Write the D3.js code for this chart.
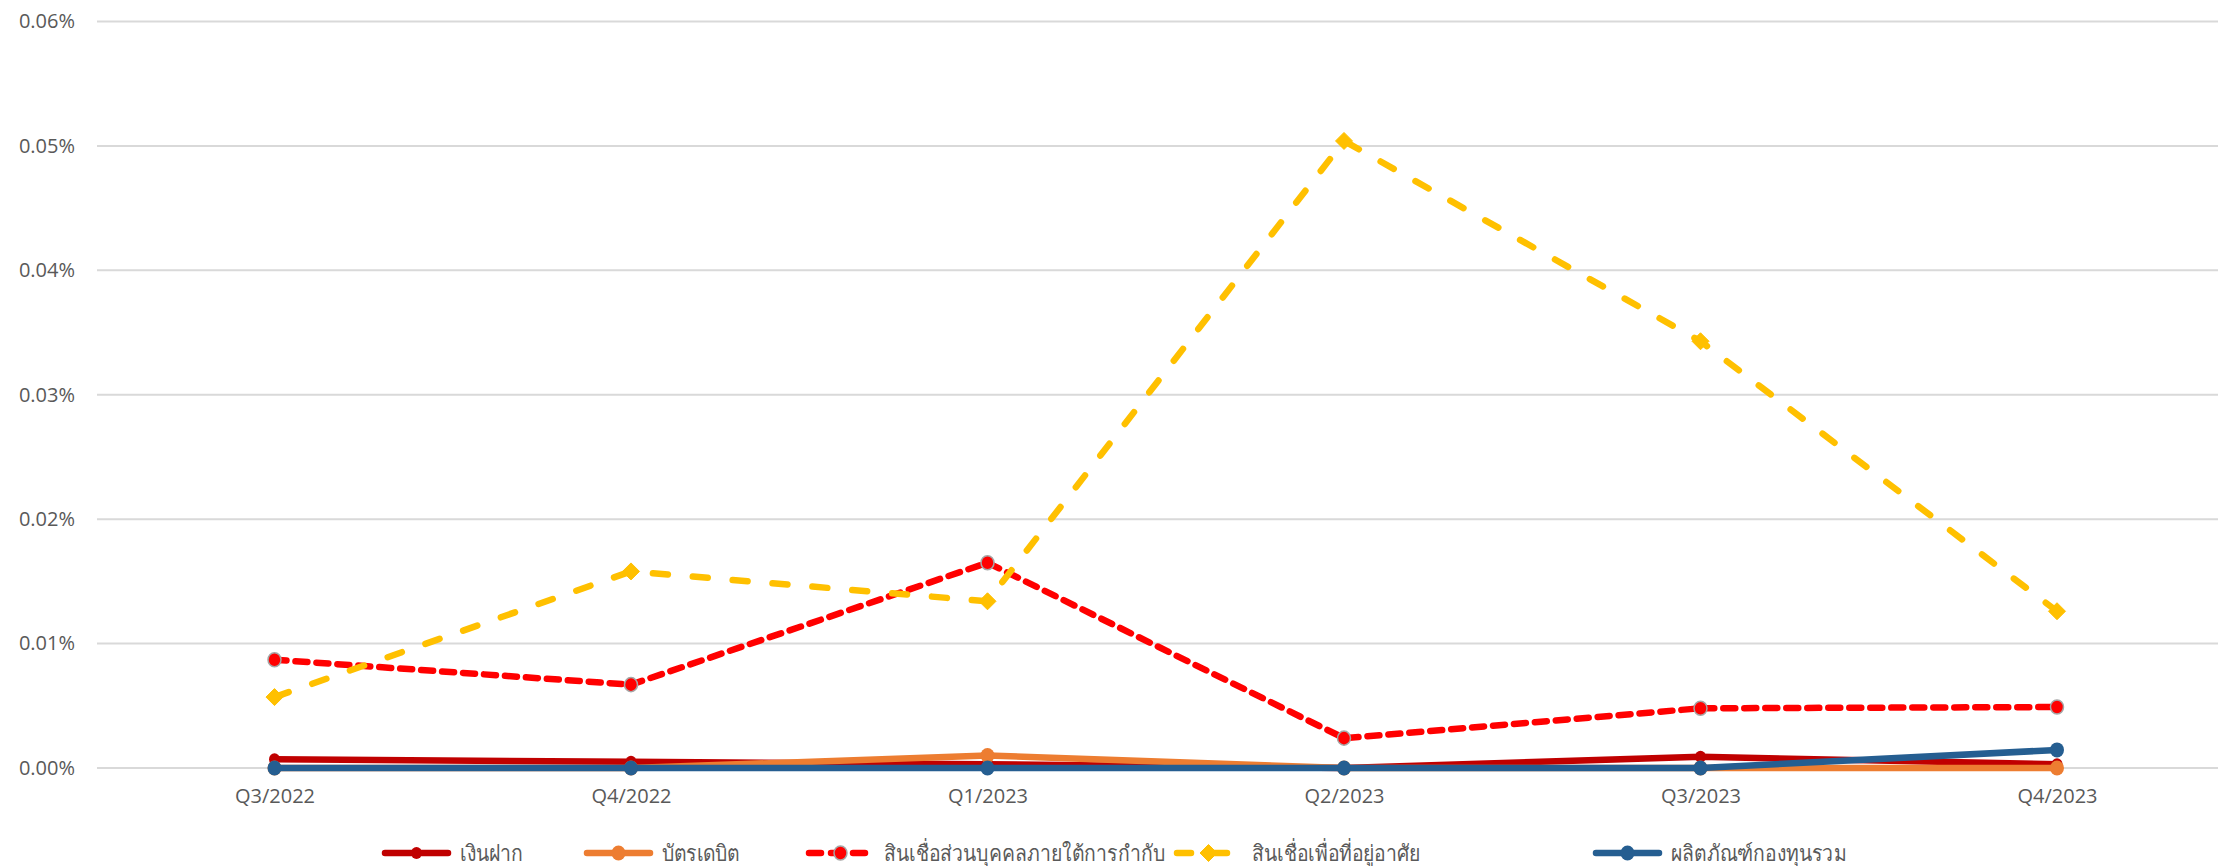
<!DOCTYPE html>
<html lang="th">
<head>
<meta charset="utf-8">
<title>chart</title>
<script src="https://cdn.jsdelivr.net/npm/d3@7"></script>
<style>
  body { margin: 0; background: #fff; }
  text { font-family: "Open Sans", "Noto Sans", sans-serif; fill: #595959; }
</style>
</head>
<body>
<script>
// data (values in percent)
var quarters = ["Q3/2022", "Q4/2022", "Q1/2023", "Q2/2023", "Q3/2023", "Q4/2023"];
var deposit   = [0.0007, 0.0005, 0.0003, 0.0, 0.0009, 0.0003];
var debitCard = [0.0, 0.0, 0.0010, 0.0, 0.0, 0.0];
var personal  = [0.0087, 0.0067, 0.0165, 0.0024, 0.0048, 0.0049];
var housing   = [0.0057, 0.0158, 0.0134, 0.0504, 0.0343, 0.0126];
var funds     = [0.0, 0.0, 0.0, 0.0, 0.0, 0.00145];
var yTicks = [0, 0.01, 0.02, 0.03, 0.04, 0.05, 0.06];

var series = [
  {name: "เงินฝาก", values: deposit, color: "#C00000", dash: null, marker: "circle", r: 5.5},
  {name: "บัตรเดบิต", values: debitCard, color: "#ED7D31", dash: null, marker: "circle", r: 7},
  {name: "สินเชื่อส่วนบุคคลภายใต้การกำกับ", values: personal, color: "#FF0000", dash: "12,9", legendDash: "12,10", marker: "circle", r: 6.5, stroke: "#A6A6A6"},
  {name: "สินเชื่อเพื่อที่อยู่อาศัย", values: housing, color: "#FFC000", dash: "15,25", legendDash: "14,22", marker: "diamond", r: 8.5},
  {name: "ผลิตภัณฑ์กองทุนรวม", values: funds, color: "#255E91", dash: null, marker: "circle", r: 7}
];

var W = 2218, H = 866;
var svg = d3.select("body").append("svg").attr("width", W).attr("height", H);

var x = d3.scalePoint().domain(quarters).range([274.5, 2057]);
var y = d3.scaleLinear().domain([0, 0.06]).range([768, 21.5]);

// gridlines
svg.append("g").selectAll("line").data(yTicks).enter().append("line")
  .attr("x1", 97).attr("x2", W)
  .attr("y1", function(d) { return y(d); })
  .attr("y2", function(d) { return y(d); })
  .attr("stroke", "#D9D9D9").attr("stroke-width", 2);

// y axis labels
var yAxis = d3.axisLeft(y).tickValues(yTicks).tickSize(0).tickPadding(0)
  .tickFormat(function(d) { return d.toFixed(2) + "%"; });
var gy = svg.append("g").attr("transform", "translate(75,0)").call(yAxis);
gy.select(".domain").remove();
gy.selectAll("text").style("font-size", "20px").attr("fill", "#595959");

// x axis labels
var xAxis = d3.axisBottom(x).tickSize(0).tickPadding(0);
var gx = svg.append("g").attr("transform", "translate(0,789)").call(xAxis);
gx.select(".domain").remove();
gx.selectAll("text").style("font-size", "20px").attr("fill", "#595959").attr("dy", "0.71em");

var line = d3.line()
  .x(function(d, i) { return x(quarters[i]); })
  .y(function(d) { return y(d); });

function drawMarker(g, s, cx, cy) {
  if (s.marker === "diamond") {
    g.append("path")
      .attr("d", "M" + cx + "," + (cy - s.r) + "L" + (cx + s.r) + "," + cy +
                 "L" + cx + "," + (cy + s.r) + "L" + (cx - s.r) + "," + cy + "Z")
      .attr("fill", s.color)
      .attr("stroke", s.color).attr("stroke-width", 1).attr("stroke-linejoin", "round");
  } else {
    g.append("ellipse").attr("cx", cx).attr("cy", cy)
      .attr("rx", s.r).attr("ry", s.r * 1.08)
      .attr("fill", s.color)
      .attr("stroke", s.stroke || s.color).attr("stroke-width", s.stroke ? 1.5 : 0);
  }
}

series.forEach(function(s) {
  var g = svg.append("g");
  g.append("path").datum(s.values)
    .attr("d", line)
    .attr("fill", "none")
    .attr("stroke", s.color)
    .attr("stroke-width", 6.5)
    .attr("stroke-linejoin", "round")
    .attr("stroke-linecap", "round")
    .attr("stroke-dasharray", s.dash);
  s.values.forEach(function(v, i) { drawMarker(g, s, x(quarters[i]), y(v)); });
});

// legend
var legendX = [385, 587, 809, 1177, 1596];
var legendY = 853;
series.forEach(function(s, i) {
  var g = svg.append("g");
  g.append("line")
    .attr("x1", legendX[i]).attr("x2", legendX[i] + 63)
    .attr("y1", legendY).attr("y2", legendY)
    .attr("stroke", s.color).attr("stroke-width", 6.5)
    .attr("stroke-linecap", "round")
    .attr("stroke-dasharray", s.legendDash || null);
  drawMarker(g, s, legendX[i] + 31.5, legendY);
  // reference font is narrower than the fallback Thai font, squeeze horizontally
  g.append("text")
    .attr("transform", "translate(" + (legendX[i] + 75) + "," + legendY + ") scale(0.88,1)")
    .attr("dy", "0.35em")
    .style("font-size", "22px")
    .text(s.name);
});
</script>
</body>
</html>
